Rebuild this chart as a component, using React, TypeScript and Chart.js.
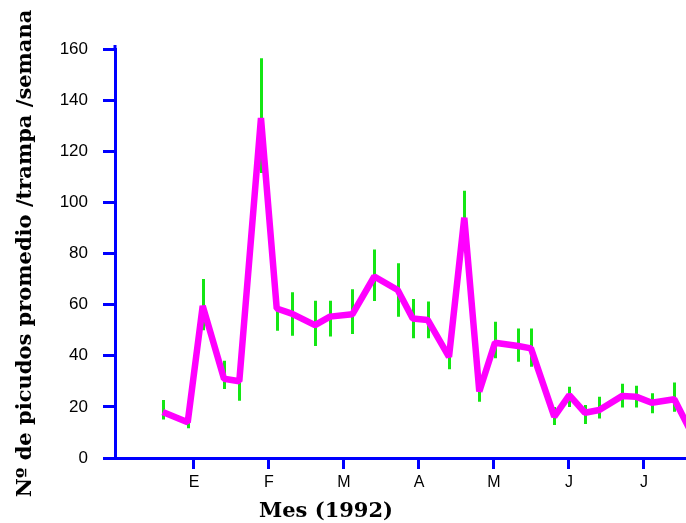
import React, { useEffect, useRef } from "react";
import { Chart, registerables } from "chart.js";

Chart.register(...registerables);

// x positions are expressed in months (1 = E, 2 = F, ... 7 = J)
const monthTickPositions = [1, 2, 3, 4, 5, 6, 7];
const monthLabels = ["E", "F", "M", "A", "M", "J", "J"];

const sampleMonths = [
  0.583, 0.916, 1.116, 1.4, 1.604, 1.893, 2.103, 2.303, 2.613, 2.813,
  3.111, 3.404, 3.716, 3.916, 4.116, 4.4, 4.604, 4.804, 5.013, 5.324,
  5.493, 5.804, 6.004, 6.213, 6.404, 6.711, 6.893, 7.103, 7.404, 7.7,
];
const meanCounts = [
  18, 14, 59.5, 31, 30, 133, 58.5, 56.5, 52, 55.3,
  56.2, 71, 65.7, 54.6, 54, 39.6, 94, 26, 45.1, 43.8,
  42.9, 16.2, 24.6, 17.7, 18.8, 24.3, 24, 21.6, 23, 6,
];
const upperBounds = [
  22.7, 17.7, 70, 38, 34.8, 156.4, 61.8, 64.8, 61.5, 61.5,
  66, 81.6, 76.2, 62.2, 61.2, 44.6, 104.5, 30, 53.3, 50.7,
  50.7, 20, 27.9, 20.7, 24, 29, 28.3, 25.3, 29.5, 9,
];
const lowerBounds = [
  15.1, 11.6, 50, 27, 22.4, 111.5, 49.8, 47.8, 43.8, 47.5,
  48.5, 61.4, 55.3, 46.8, 46.8, 34.7, 83, 22, 39, 37.7,
  35.7, 12.9, 20, 13.3, 15.5, 19.8, 19.8, 17.5, 18.1, 3,
];
const yTickValues = [0, 20, 40, 60, 80, 100, 120, 140, 160];

const yTitle = "Nº de picudos promedio /trampa /semana";
const xTitle = "Mes (1992)";

const BLUE = "#0000ff";
const MAGENTA = "#ff00ff";
const GREEN = "#14e614";
const SERIF = "'DejaVu Serif', 'Liberation Serif', serif";

const errorBarPlugin = {
  id: "errorBars",
  beforeDatasetsDraw(chart: any) {
    const { ctx, chartArea, scales } = chart;
    const x = scales.x;
    const y = scales.y;
    ctx.save();
    ctx.beginPath();
    ctx.rect(chartArea.left, chartArea.top - 20, chartArea.right - chartArea.left, chartArea.bottom - chartArea.top + 20);
    ctx.clip();
    ctx.strokeStyle = GREEN;
    ctx.lineWidth = 3;
    ctx.beginPath();
    sampleMonths.forEach((m, i) => {
      const px = Math.round(x.getPixelForValue(m)) + 0.5;
      ctx.moveTo(px, y.getPixelForValue(upperBounds[i]));
      ctx.lineTo(px, y.getPixelForValue(lowerBounds[i]));
    });
    ctx.stroke();
    ctx.restore();
  },
};

const decorPlugin = {
  id: "decor",
  afterDraw(chart: any) {
    const { ctx, chartArea } = chart;
    ctx.save();
    // small extension of the y axis line above the top tick
    ctx.strokeStyle = BLUE;
    ctx.lineWidth = 3;
    ctx.beginPath();
    ctx.moveTo(chartArea.left, chartArea.top - 4);
    ctx.lineTo(chartArea.left, chartArea.top + 1);
    ctx.stroke();
    // x axis title
    ctx.font = `bold 21px ${SERIF}`;
    ctx.fillStyle = "#000";
    ctx.textAlign = "center";
    ctx.textBaseline = "alphabetic";
    ctx.fillText(xTitle, 326, 517);
    ctx.restore();
  },
};

export default function App() {
  const canvasRef = useRef<HTMLCanvasElement | null>(null);

  useEffect(() => {
    if (!canvasRef.current) return;
    const chart = new Chart(canvasRef.current, {
      type: "line",
      data: {
        datasets: [
          {
            data: sampleMonths.map((m, i) => ({ x: m, y: meanCounts[i] })),
            borderColor: MAGENTA,
            backgroundColor: MAGENTA,
            borderWidth: 6.5,
            pointRadius: 0,
            tension: 0,
            borderJoinStyle: "bevel",
            borderCapStyle: "butt",
            fill: false,
          },
        ],
      },
      options: {
        responsive: false,
        animation: false,
        layout: { padding: { top: 49, left: 0, right: 0, bottom: 0 } },
        plugins: {
          legend: { display: false },
          tooltip: { enabled: false },
        },
        scales: {
          x: {
            type: "linear",
            min: -0.0533,
            max: 7.56,
            afterFit: (scale: any) => {
              scale.height = 65;
            },
            afterBuildTicks: (scale: any) => {
              scale.ticks = monthTickPositions.map((v) => ({ value: v }));
            },
            border: { display: true, color: BLUE, width: 3 },
            grid: {
              display: true,
              drawOnChartArea: false,
              drawTicks: true,
              tickLength: 11,
              tickWidth: 3,
              color: BLUE,
            },
            ticks: {
              autoSkip: false,
              maxRotation: 0,
              padding: 4,
              color: "#000",
              font: { family: "'Liberation Sans', Arial, sans-serif", size: 16 },
              callback: (v: any) => monthLabels[monthTickPositions.indexOf(Number(v))] ?? "",
            },
          },
          y: {
            type: "linear",
            min: 0,
            max: 160,
            afterFit: (scale: any) => {
              scale.width = 115;
            },
            afterBuildTicks: (scale: any) => {
              scale.ticks = yTickValues.map((v) => ({ value: v }));
            },
            border: { display: true, color: BLUE, width: 3 },
            grid: {
              display: true,
              drawOnChartArea: false,
              drawTicks: true,
              tickLength: 12,
              tickWidth: 3,
              color: BLUE,
            },
            ticks: {
              padding: 15,
              color: "#000",
              font: { family: "'Liberation Sans', Arial, sans-serif", size: 17 },
            },
            title: {
              display: true,
              text: yTitle,
              color: "#000",
              font: { family: SERIF, size: 21, weight: "bold" },
              padding: { top: 13, bottom: 0 },
            },
          },
        },
      },
      plugins: [errorBarPlugin, decorPlugin],
    });
    return () => chart.destroy();
  }, []);

  return (
    <div style={{ position: "fixed", left: 0, top: 0, width: 686, height: 523, background: "#fff", overflow: "hidden" }}>
      <canvas ref={canvasRef} width={686} height={523} style={{ display: "block" }} />
    </div>
  );
}
